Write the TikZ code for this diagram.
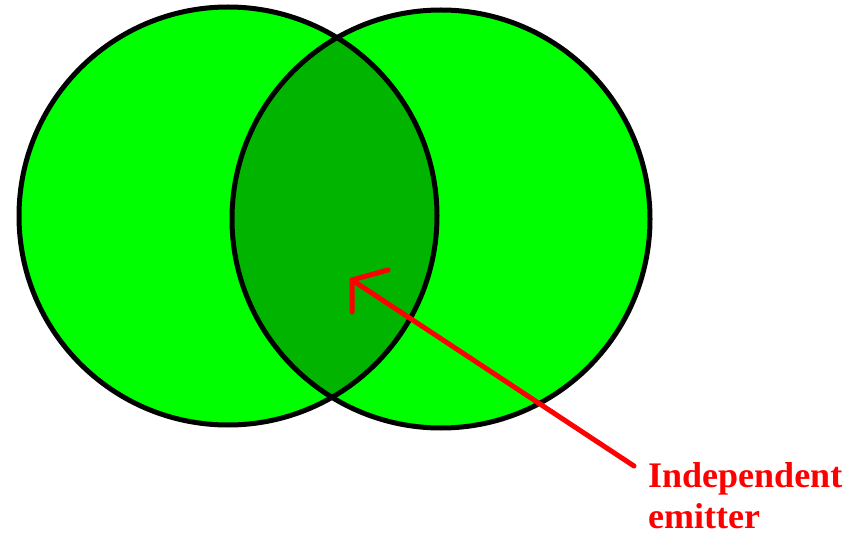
\documentclass[tikz,border=0pt]{standalone}
\usepackage{fontspec}
\setmainfont{Liberation Serif}
\usetikzlibrary{calc}
\definecolor{lightg}{RGB}{0,255,0}
\definecolor{darkg}{RGB}{0,180,0}
\definecolor{redc}{RGB}{255,0,0}
\tikzset{
  ring/.style={circle, minimum size=418pt, inner sep=0pt, outer sep=0pt},
  outline/.style={draw=black, line width=5pt},
  pointer/.style={draw=redc, line width=5pt, line cap=round, line join=round},
  label/.style={text=redc, font=\fontsize{36}{41}\selectfont\bfseries, align=left, inner sep=0pt}
}
\begin{document}
\begin{tikzpicture}[x=1pt,y=-1pt]
\useasboundingbox (0,0) rectangle (867,537);
\node[ring, fill=lightg] (L) at (228,216) {};
\node[ring, fill=lightg] (R) at (441,219) {};
\begin{scope}
  \clip (228,216) circle (209);
  \fill[darkg] (441,219) circle (209);
\end{scope}
\node[ring, outline] at (L) {};
\node[ring, outline] at (R) {};
\node[label, anchor=north west] (txt) at (648,462) {Independent\\emitter};
\coordinate (tail) at (634,466);
\coordinate (tip) at (352,280);
\draw[pointer] (tail) -- (tip);
\draw[pointer] ($(tip)+(36,-10)$) -- (tip) -- ($(tip)+(0,32)$);
\end{tikzpicture}
\end{document}
